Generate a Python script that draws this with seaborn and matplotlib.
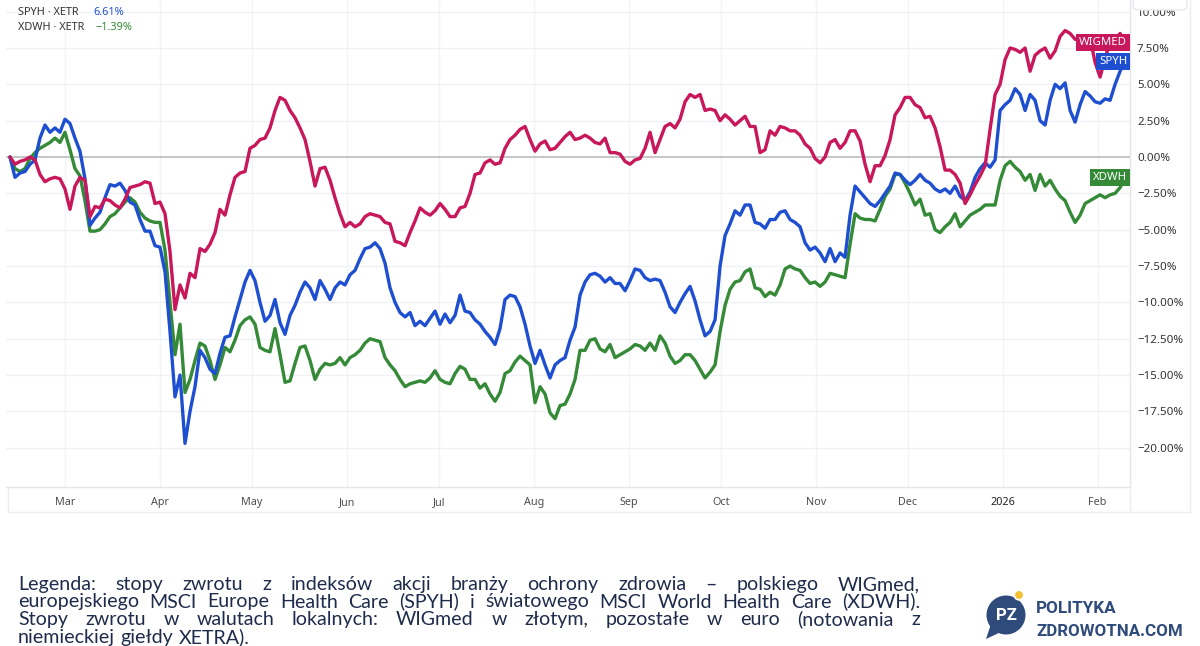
import numpy as np
import pandas as pd
import matplotlib
matplotlib.use("Agg")
import matplotlib.pyplot as plt
import matplotlib.transforms as mtransforms
from matplotlib.patches import Circle, Polygon, FancyBboxPatch
from matplotlib.lines import Line2D
import seaborn as sns

# Dane (zmiana % od poczatku okresu), punkty co ~1,6 dnia
start_date = "2025-02-11"
end_date = "2026-02-10"

wigmed = [
    0.0, -0.5, -0.3, -0.2, 0.0, -0.2, -1.2, -1.7, -1.5, -1.4,
    -1.5, -2.2, -3.6, -2.0, -1.4, -1.6, -4.1, -3.4, -3.5, -2.9,
    -3.0, -3.3, -3.5, -2.9, -2.1, -2.0, -1.9, -1.7, -1.8, -3.2,
    -3.1, -3.9, -6.5, -10.5, -8.8, -9.7, -8.0, -8.3, -6.3, -6.5,
    -6.0, -5.2, -3.6, -4.0, -2.6, -1.4, -1.1, -1.0, 0.6, 0.8,
    1.2, 1.3, 2.0, 3.2, 4.1, 3.9, 3.2, 2.7, 2.0, 1.2,
    -0.3, -2.0, -0.8, -0.7, -1.6, -2.8, -3.9, -4.8, -4.5, -4.8,
    -4.6, -4.1, -3.9, -4.0, -4.1, -4.5, -4.6, -5.8, -5.9, -6.1,
    -5.2, -4.4, -3.5, -3.8, -4.0, -3.7, -3.2, -3.6, -4.1, -4.1,
    -3.5, -3.4, -2.5, -1.2, -1.1, -0.4, -0.2, -0.5, -0.4, 0.6,
    1.2, 1.5, 1.9, 2.1, 1.2, 0.4, 0.9, 1.1, 0.5, 0.6,
    1.0, 1.4, 1.7, 1.2, 1.3, 1.5, 1.3, 1.0, 0.9, 1.3,
    0.3, 0.3, 0.2, -0.3, -0.5, -0.2, -0.1, 0.6, 1.7, 0.3,
    1.2, 2.1, 2.3, 2.0, 2.6, 3.8, 4.3, 4.1, 4.3, 3.2,
    3.3, 3.2, 2.5, 2.9, 2.6, 2.2, 2.5, 2.8, 2.1, 2.1,
    0.3, 0.5, 1.8, 1.5, 2.1, 2.0, 1.8, 1.8, 1.5, 0.9,
    0.6, -0.1, -0.4, 0.0, 1.0, 1.2, 0.6, 1.0, 1.8, 1.8,
    1.1, -0.5, -1.7, -0.6, -0.6, 0.1, 1.2, 2.9, 3.4, 4.1,
    4.1, 3.6, 3.4, 2.7, 2.8, 2.0, 0.7, -0.9, -0.9, -1.2,
    -1.8, -3.2, -2.6, -1.9, -1.3, -0.6, 1.9, 4.3, 5.0, 6.7,
    7.5, 7.4, 7.2, 7.5, 5.9, 7.0, 7.3, 7.5, 6.8, 7.3,
    8.3, 8.7, 8.5, 8.1, 8.0, 8.2, 8.2, 6.5, 5.5, 6.8,
    7.9, 8.1, 8.5, 7.9,
]

spyh = [
    0.0, -1.4, -1.1, -1.0, -0.5, -0.2, 1.3, 2.2, 1.7, 2.0,
    1.7, 2.6, 2.3, 1.3, 0.4, -1.5, -4.7, -4.2, -3.8, -2.8,
    -1.9, -2.0, -1.8, -2.3, -3.1, -3.3, -4.3, -5.1, -5.1, -6.1,
    -6.2, -7.9, -12.0, -16.5, -15.0, -19.7, -17.5, -15.8, -13.3, -13.8,
    -14.6, -14.9, -13.5, -12.4, -12.3, -11.0, -9.8, -8.6, -7.8, -8.5,
    -10.0, -11.3, -10.9, -9.8, -11.4, -12.2, -10.9, -10.2, -9.3, -8.6,
    -9.0, -9.8, -8.5, -9.1, -9.8, -9.0, -8.6, -8.8, -8.1, -7.8,
    -7.0, -6.3, -6.2, -5.9, -6.3, -7.3, -9.0, -10.0, -10.7, -11.0,
    -10.7, -11.6, -11.3, -11.6, -11.1, -10.6, -11.5, -10.8, -11.4, -10.9,
    -9.5, -10.6, -10.7, -11.2, -11.5, -12.0, -12.4, -12.9, -11.8, -9.8,
    -9.5, -9.6, -10.3, -11.5, -13.0, -14.2, -13.3, -14.3, -15.2, -14.3,
    -14.0, -13.8, -12.6, -11.7, -9.5, -8.6, -8.1, -8.0, -8.2, -8.6,
    -8.3, -8.7, -8.7, -9.2, -8.5, -7.7, -7.8, -8.3, -8.5, -8.4,
    -8.5, -9.3, -10.3, -10.7, -10.0, -9.4, -8.9, -9.9, -11.2, -12.3,
    -12.0, -11.2, -7.5, -5.4, -4.6, -3.7, -4.0, -3.3, -3.3, -4.5,
    -4.6, -4.9, -4.3, -4.3, -3.8, -3.7, -4.3, -4.5, -4.8, -5.9,
    -6.4, -6.2, -6.6, -7.2, -6.3, -7.2, -6.6, -6.9, -4.0, -2.0,
    -2.4, -2.8, -3.2, -3.4, -3.0, -2.5, -2.0, -1.1, -1.2, -1.6,
    -1.9, -1.6, -1.2, -1.6, -1.8, -2.2, -2.4, -2.2, -2.5, -2.0,
    -2.7, -3.0, -2.4, -1.4, -0.8, -0.4, -0.7, -0.2, 3.2, 3.6,
    3.9, 4.7, 4.3, 3.2, 4.3, 3.9, 2.5, 2.2, 3.9, 5.0,
    4.7, 5.1, 3.2, 2.4, 3.6, 4.5, 4.2, 3.8, 3.7, 4.0,
    3.9, 5.0, 5.9, 6.6,
]

xdwh = [
    0.0, -0.8, -1.0, -0.8, -0.1, 0.3, 0.6, 0.8, 1.0, 1.3,
    1.0, 1.7, 0.5, -0.8, -1.3, -3.0, -5.1, -5.1, -5.0, -4.6,
    -4.1, -3.9, -3.5, -3.1, -2.8, -3.1, -3.8, -4.2, -4.4, -4.5,
    -4.5, -6.4, -10.0, -13.6, -11.5, -16.2, -15.3, -14.0, -12.8, -13.0,
    -14.0, -15.3, -14.3, -13.1, -13.4, -12.6, -11.6, -11.2, -11.0, -11.5,
    -13.1, -13.3, -13.4, -11.8, -13.6, -15.5, -15.4, -14.2, -13.1, -13.0,
    -14.0, -15.3, -14.6, -14.2, -14.3, -14.2, -13.8, -14.3, -13.8, -13.6,
    -13.3, -12.8, -12.5, -12.6, -12.7, -13.8, -14.3, -14.7, -15.3, -15.8,
    -15.6, -15.5, -15.4, -15.5, -15.2, -14.7, -15.3, -15.5, -15.6, -14.9,
    -14.4, -14.6, -15.3, -15.3, -15.9, -15.6, -16.3, -16.8, -16.2, -14.9,
    -14.7, -14.1, -13.7, -14.0, -14.3, -16.9, -15.8, -16.3, -17.6, -18.0,
    -17.1, -17.0, -16.3, -15.3, -13.3, -13.3, -12.6, -12.5, -13.2, -13.4,
    -12.9, -13.8, -13.6, -13.4, -13.2, -12.9, -13.0, -13.3, -12.8, -13.3,
    -12.3, -12.8, -13.7, -14.2, -14.0, -13.6, -13.6, -14.0, -14.6, -15.2,
    -14.8, -14.3, -12.0, -10.2, -9.1, -8.6, -8.5, -7.9, -7.7, -9.0,
    -9.1, -9.6, -9.3, -9.5, -8.8, -7.7, -7.5, -7.7, -7.8, -8.3,
    -8.7, -8.6, -8.9, -8.6, -8.0, -8.1, -8.2, -8.3, -6.0, -3.9,
    -4.2, -4.3, -4.3, -4.4, -3.6, -2.7, -2.2, -1.2, -1.2, -1.8,
    -2.5, -3.3, -2.9, -4.0, -3.9, -5.0, -5.2, -4.8, -4.5, -3.9,
    -4.8, -4.4, -4.0, -3.8, -3.6, -3.3, -3.3, -3.3, -1.6, -0.6,
    -0.3, -0.7, -1.0, -1.6, -1.2, -2.3, -1.2, -2.0, -1.6, -2.2,
    -2.7, -3.0, -3.8, -4.5, -4.0, -3.2, -3.0, -2.8, -2.6, -2.8,
    -2.6, -2.5, -2.1, -1.4,
]

series_names = ["WIGMED", "SPYH", "XDWH"]
draw_order = ["XDWH", "SPYH", "WIGMED"]

month_starts = ["2025-03-01", "2025-04-01", "2025-05-01", "2025-06-01",
                "2025-07-01", "2025-08-01", "2025-09-01", "2025-10-01",
                "2025-11-01", "2025-12-01", "2026-01-01", "2026-02-01"]
month_labels = ["Mar", "Apr", "May", "Jun", "Jul", "Aug", "Sep", "Oct",
                "Nov", "Dec", "2026", "Feb"]

y_ticks = [-20.0, -17.5, -15.0, -12.5, -10.0, -7.5, -5.0, -2.5,
           0.0, 2.5, 5.0, 7.5, 10.0]

legend_rows = [("SPYH · XETR", "6.61%", "SPYH"),
               ("XDWH · XETR", "\u22121.39%", "XDWH")]

caption_lines = [
    "Legenda: stopy zwrotu z indeksów akcji branży ochrony zdrowia – polskiego WIGmed,",
    "europejskiego MSCI Europe Health Care (SPYH) i światowego MSCI World Health Care (XDWH).",
    "Stopy zwrotu w walutach lokalnych: WIGmed w złotym, pozostałe w euro (notowania z",
    "niemieckiej giełdy XETRA).",
]

colors = {"WIGMED": "#c8175a", "SPYH": "#1f4fd1", "XDWH": "#348a37"}

# --- dane w formacie long dla seaborn
dates = pd.date_range(start_date, end_date, periods=len(wigmed))
df = pd.DataFrame({"date": dates, "WIGMED": wigmed, "SPYH": spyh, "XDWH": xdwh})
long_df = df.melt(id_vars="date", var_name="series", value_name="change")

sns.set_style("white")
plt.rcParams["font.family"] = ["Noto Sans", "DejaVu Sans"]

W, H = 1200, 646
fig = plt.figure(figsize=(W / 100, H / 100), dpi=100)
fig.patch.set_facecolor("white")
ax = fig.add_axes([6 / W, 1 - 487 / H, (1130 - 6) / W, 487 / H])

sns.lineplot(data=long_df, x="date", y="change", hue="series",
             hue_order=draw_order, palette=colors, linewidth=2.4,
             estimator=None, legend=False, ax=ax, zorder=3)

ax.set_xlim(dates[0] - pd.Timedelta(days=1.3), dates[-1] + pd.Timedelta(days=1.6))
ax.set_ylim(-22.7, 10.8)

# siatka i linia zera
ax.set_yticks(y_ticks)
ax.set_xticks(pd.to_datetime(month_starts))
ax.grid(axis="y", color="#eff1f5", lw=1.0, zorder=0)
ax.grid(axis="x", color="#f3f4f7", lw=1.0, zorder=0)
ax.axhline(0, color="#c6c6c6", lw=1.4, zorder=1)

ax.yaxis.tick_right()
ax.set_yticklabels([f"{v:.2f}%".replace("-", "\u2212") for v in y_ticks])
ax.set_xticklabels(month_labels)
ax.tick_params(axis="y", length=0, pad=5, labelsize=8.3, labelcolor="#333333")
ax.tick_params(axis="x", length=0, pad=7, labelsize=7.8, labelcolor="#4d4d4d")
for lbl in ax.get_xticklabels():
    if lbl.get_text() == "2026":
        lbl.set_fontweight("bold")
        lbl.set_color("#222222")
ax.set_xlabel("")
ax.set_ylabel("")

for side in ["top", "left"]:
    ax.spines[side].set_visible(False)
for side in ["right", "bottom"]:
    ax.spines[side].set_color("#e3e5ea")
    ax.spines[side].set_linewidth(1.0)

# etykiety na koncu linii
trans = mtransforms.blended_transform_factory(ax.transAxes, ax.transData)
for name in series_names:
    last_val = df[name].iloc[-1]
    ax.text(0.9975, last_val, name, transform=trans, ha="right", va="center",
            color="white", fontsize=8.2, fontweight="bold", zorder=5,
            bbox=dict(boxstyle="square,pad=0.26", fc=colors[name], ec="none"))

# legenda w lewym gornym rogu
for i, (label, change, name) in enumerate(legend_rows):
    y = 1 - (12.5 + 15.5 * i) / 487
    ax.text(12 / 1124, y, label, transform=ax.transAxes, ha="left", va="center",
            fontsize=7.9, color="#333333")
    ax.text((87 + 3 * i) / 1124, y, change, transform=ax.transAxes, ha="left",
            va="center", fontsize=7.9, color=colors[name])

# ramka panelu wykresu
for xs, ys in [([8, 1190], [512, 512]), ([1190, 1190], [0, 512]),
               ([1130, 1130], [487, 512]), ([8, 8], [487, 512])]:
    fig.add_artist(Line2D([x / W for x in xs], [1 - y / H for y in ys],
                          transform=fig.transFigure, color="#ebedf0", lw=1.0))

# zaokraglone pole u gory osi (czesciowo zaslania etykiete 10.00%)
fig.add_artist(FancyBboxPatch((1133 / W, 1 - 10 / H), 54 / W, 24 / H,
                              boxstyle="round,pad=0,rounding_size=0.006",
                              transform=fig.transFigure, fc="white",
                              ec="#e6e8ec", lw=1.0, zorder=5))

# podpis - tekst wyjustowany
renderer = fig.canvas.get_renderer()
cap_kw = dict(fontfamily=["Lato", "DejaVu Sans"], color="#1e2b4b")
x_left, x_right = 18, 920
probe = fig.text(0, 0, caption_lines[1], fontsize=14, **cap_kw)
cap_size = 14 * (x_right - x_left) / probe.get_window_extent(renderer).width * 0.93
probe.remove()
baselines = [590, 607.5, 625, 643.0]
space_px = cap_size * 100 / 72 * 0.27
for i, line in enumerate(caption_lines):
    words = line.split(" ")
    texts = [fig.text(0, 1 - baselines[i] / H, w, fontsize=cap_size, va="baseline", **cap_kw)
             for w in words]
    widths = [t.get_window_extent(renderer).width for t in texts]
    if i < len(caption_lines) - 1 and len(words) > 1:
        gap = (x_right - x_left - sum(widths)) / (len(words) - 1)
    else:
        gap = space_px
    x = x_left
    for t, w in zip(texts, widths):
        t.set_x(x / W)
        x += w + gap

# logo Polityka Zdrowotna
logo_blue = "#2e4b7b"
fig.add_artist(Circle((10.06, 0.31), 0.195, transform=fig.dpi_scale_trans,
                      fc=logo_blue, ec="none"))
fig.add_artist(Polygon([(9.91, 0.22), (9.86, 0.07), (10.03, 0.15)], closed=True,
                       transform=fig.dpi_scale_trans, fc=logo_blue, ec="none"))
fig.add_artist(Circle((10.19, 0.51), 0.048, transform=fig.dpi_scale_trans,
                      fc="#f3c230", ec="white", lw=1.2))
fig.text(1006 / W, 1 - 616 / H, "PZ", ha="center", va="center", color="white",
         fontsize=12, fontweight="bold", fontfamily=["Roboto", "DejaVu Sans"])
fig.text(1036 / W, 1 - 613 / H, "POLITYKA", ha="left", va="baseline", color=logo_blue,
         fontsize=12.3, fontweight="bold", fontfamily=["Roboto", "DejaVu Sans"])
fig.text(1036 / W, 1 - 636 / H, "ZDROWOTNA.COM", ha="left", va="baseline", color=logo_blue,
         fontsize=12.2, fontweight="bold", fontfamily=["Roboto", "DejaVu Sans"])

fig.savefig("out.png", dpi=100, facecolor="white")
plt.close(fig)
